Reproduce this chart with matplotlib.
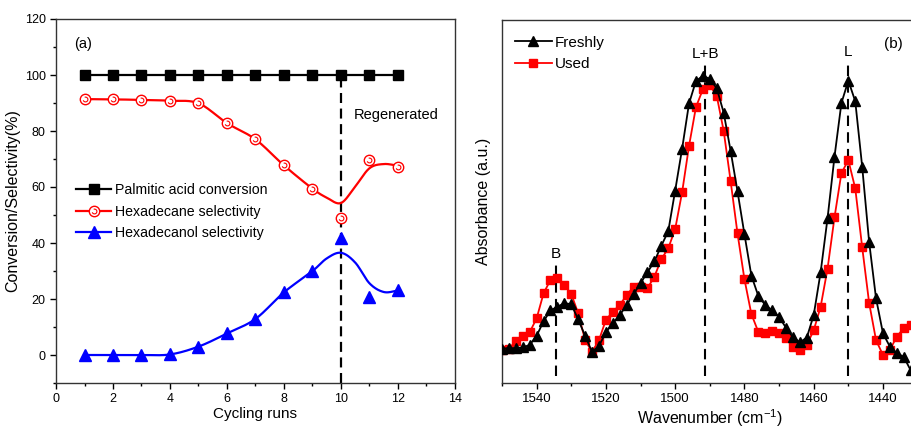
import numpy as np
import matplotlib
matplotlib.use('Agg')
import matplotlib.pyplot as plt
from matplotlib.path import Path
from matplotlib.legend_handler import HandlerTuple

plt.rcParams['font.family'] = ['Liberation Sans', 'DejaVu Sans']
plt.rcParams['mathtext.fontset'] = 'custom'
plt.rcParams['mathtext.rm'] = 'Liberation Sans'

# ---- panel (a): catalyst cycling ----
runs = [1, 2, 3, 4, 5, 6, 7, 8, 9, 10, 11, 12]
conversion = [100, 100, 100, 100, 100, 100, 100, 100, 100, 100, 100, 100]
hexadecane = [91.4, 91.3, 91.1, 90.8, 89.9, 82.8, 77.0, 67.7, 59.4, 48.8, 69.8, 67.2]
hexadecanol = [0.0, 0.0, 0.0, 0.2, 3.0, 7.7, 12.9, 22.4, 30.0, 41.9, 20.6, 23.2]

# smoothed fit lines as drawn in the figure (knots)
hexadecane_fit_x = [1, 2, 3, 4, 5, 6, 7, 8, 9, 9.5, 10, 10.5, 11, 11.5, 12]
hexadecane_fit_y = [91.4, 91.3, 91.1, 90.8, 89.9, 82.8, 77.0, 67.7, 59.4, 56.2, 54.3, 60.2, 66.7, 68.2, 67.6]
hexadecanol_fit_x = [1, 2, 3, 4, 5, 6, 7, 8, 9, 9.5, 10, 10.5, 11, 11.5, 12]
hexadecanol_fit_y = [0.0, 0.0, 0.0, 0.2, 3.0, 7.7, 12.9, 22.4, 30.0, 34.5, 36.5, 33.0, 25.6, 22.5, 23.0]
regen_run = 10

# ---- panel (b): pyridine IR ----
wavenumber = list(range(1550, 1431, -2))
freshly = [0.095, 0.096, 0.096, 0.098, 0.105, 0.130, 0.170, 0.200, 0.210, 0.220,
           0.217, 0.175, 0.130, 0.086, 0.102, 0.140, 0.165, 0.187, 0.215, 0.245,
           0.275, 0.305, 0.335, 0.378, 0.418, 0.530, 0.645, 0.770, 0.832, 0.846,
           0.838, 0.812, 0.745, 0.640, 0.528, 0.410, 0.296, 0.240, 0.215, 0.200,
           0.182, 0.152, 0.126, 0.112, 0.125, 0.187, 0.305, 0.454, 0.623, 0.771,
           0.833, 0.776, 0.596, 0.389, 0.233, 0.137, 0.100, 0.082, 0.072, 0.035]
used = [0.090, 0.095, 0.115, 0.130, 0.140, 0.178, 0.247, 0.284, 0.288, 0.270,
        0.245, 0.192, 0.118, 0.086, 0.118, 0.174, 0.196, 0.215, 0.242, 0.265,
        0.265, 0.261, 0.293, 0.341, 0.371, 0.424, 0.525, 0.653, 0.760, 0.809,
        0.820, 0.791, 0.695, 0.557, 0.412, 0.286, 0.190, 0.141, 0.139, 0.142,
        0.137, 0.123, 0.100, 0.091, 0.105, 0.145, 0.210, 0.315, 0.456, 0.578,
        0.614, 0.536, 0.374, 0.221, 0.118, 0.077, 0.091, 0.128, 0.151, 0.160]
band_pos = [1534.4, 1491.3, 1450.2]
band_text = ['B', 'L+B', 'L']
band_top = [0.33, 0.875, 0.875]
band_label_y = [0.355, 0.905, 0.912]


def smooth(xk, yk, n=24):
    # Catmull-Rom through the knots, only for drawing
    pts = np.column_stack([xk, yk]).astype(float)
    p = np.vstack([2 * pts[0] - pts[1], pts, 2 * pts[-1] - pts[-2]])
    t = np.linspace(0, 1, n, endpoint=False)[:, None]
    out = []
    for i in range(1, len(p) - 2):
        p0, p1, p2, p3 = p[i - 1], p[i], p[i + 1], p[i + 2]
        out.append(0.5 * (2 * p1 + (-p0 + p2) * t + (2 * p0 - 5 * p1 + 4 * p2 - p3) * t ** 2
                          + (-p0 + 3 * p1 - 3 * p2 + p3) * t ** 3))
    out.append(pts[-1:])
    s = np.vstack(out)
    return s[:, 0], s[:, 1]


fig = plt.figure(figsize=(9.11, 4.30), dpi=100)
W, H = 911., 430.

# ---------- (a) ----------
ax = fig.add_axes([56 / W, 47 / H, 399 / W, 364 / H])
ax.plot(runs, conversion, '-', color='black', lw=1.6, marker='s', ms=6.5, zorder=3)
h_conv, = ax.plot([], [], '-', color='black', lw=1.6, marker='s', ms=6.5)

fx, fy = smooth(hexadecane_fit_x, hexadecane_fit_y)
ax.plot(fx, fy, '-', color='red', lw=1.6, zorder=2)
ax.plot(runs, hexadecane, 'o', mfc='white', mec='red', mew=1.0, ms=7.5, zorder=3)
swirl = Path.arc(200, 470)
ax.plot(runs, hexadecane, ls='none', marker=swirl, mfc='none', mec='red', mew=0.8, ms=3.5, zorder=4)
h_hex_line, = ax.plot([], [], '-', color='red', lw=1.6, marker='o', mfc='white', mec='red', mew=1.0, ms=7.5)
h_hex_in, = ax.plot([], [], ls='none', marker=swirl, mfc='none', mec='red', mew=0.8, ms=3.5)

bx, by = smooth(hexadecanol_fit_x, hexadecanol_fit_y)
ax.plot(bx, by, '-', color='blue', lw=1.6, zorder=2)
ax.plot(runs, hexadecanol, '^', color='blue', ms=8, zorder=3)
h_ol, = ax.plot([], [], '-', color='blue', lw=1.6, marker='^', ms=8)

ax.plot([regen_run, regen_run], [-10, 100], color='black', lw=1.6, dashes=(4.5, 2.5), zorder=1)
ax.text(10.45, 85.7, 'Regenerated', fontsize=10.5, va='center', ha='left')
ax.text(0.95, 111, '(a)', fontsize=10.5, va='center', ha='center')

ax.set_xlim(0, 14)
ax.set_ylim(-10, 120)
ax.set_xticks(range(0, 15, 2))
ax.set_xticks(range(1, 14, 2), minor=True)
ax.set_yticks(range(0, 121, 20))
ax.set_yticks(range(-10, 121, 20), minor=True)
ax.tick_params(which='major', length=4, width=1, labelsize=9)
ax.tick_params(which='minor', length=2.5, width=1)
ax.set_xlabel('Cycling runs', fontsize=11, labelpad=1)
ax.set_ylabel('Conversion/Selectivity(%)', fontsize=11.5, labelpad=3)
for s in ax.spines.values():
    s.set_linewidth(1.0)
    s.set_color('#333333')

ax.legend([h_conv, (h_hex_line, h_hex_in), h_ol],
          ['Palmitic acid conversion', 'Hexadecane selectivity', 'Hexadecanol selectivity'],
          handler_map={tuple: HandlerTuple(ndivide=1, pad=0)},
          loc='upper left', bbox_to_anchor=(0.05, 0.55), frameon=False, fontsize=10.2,
          handlelength=2.5, handletextpad=0.25, labelspacing=0.55, borderpad=0, borderaxespad=0)

# ---------- (b) ----------
bx0 = 502
bxr = 883 + 10 * 3.46
ax2 = fig.add_axes([bx0 / W, 47 / H, (bxr - bx0) / W, 363 / H])
ax2.plot(wavenumber, freshly, '-', color='black', lw=1.3, marker='^', ms=6.5, label='Freshly', zorder=3)
ax2.plot(wavenumber, used, '-', color='red', lw=1.3, marker='s', ms=5.5, label='Used', zorder=2)
for pos, top, txt, ly in zip(band_pos, band_top, band_text, band_label_y):
    ax2.plot([pos, pos], [0.02, top], color='black', lw=1.5, dashes=(5, 3), zorder=1)
    ax2.text(pos, ly, txt, fontsize=11, ha='center', va='center')
ax2.text(1437.1, 0.934, '(b)', fontsize=11, ha='center', va='center')

ax2.set_xlim(1550, 1430)
ax2.set_ylim(0, 1)
ax2.set_xticks(range(1540, 1429, -20))
ax2.set_xticks(range(1550, 1429, -20), minor=True)
ax2.set_yticks([])
ax2.tick_params(which='major', length=4, width=1, labelsize=9.5)
ax2.tick_params(which='minor', length=2.5, width=1)
ax2.set_xlabel(r'Wavenumber (cm$^{\mathregular{-1}}$)', fontsize=11.5, labelpad=1)
ax2.set_ylabel('Absorbance (a.u.)', fontsize=11.5, labelpad=8)
for s in ax2.spines.values():
    s.set_linewidth(1.0)
    s.set_color('#333333')
ax2.legend(loc='upper left', bbox_to_anchor=(0.031, 0.957), frameon=False, fontsize=11,
           handlelength=2.4, handletextpad=0.2, labelspacing=0.5, borderpad=0, borderaxespad=0)

fig.savefig('out.png', dpi=100)
